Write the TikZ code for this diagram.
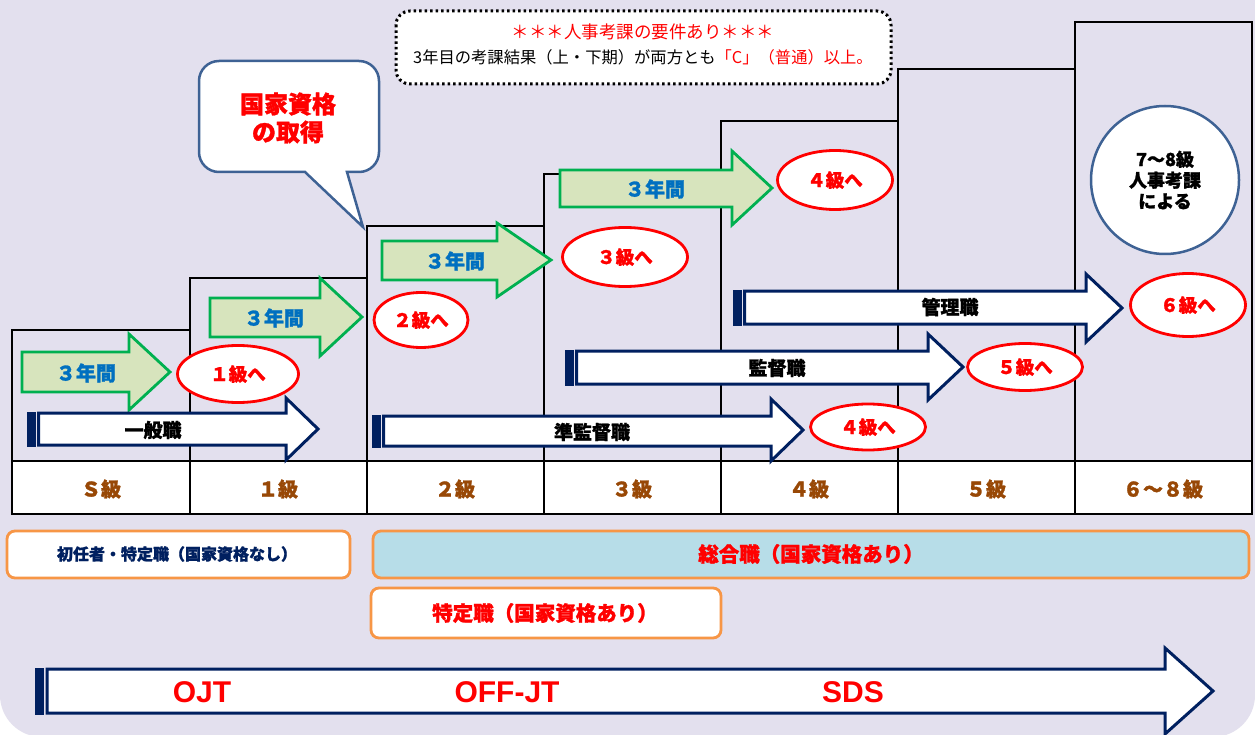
\documentclass[tikz,border=0pt]{standalone}
\usepackage{fontspec}
\setmainfont{Noto Sans CJK JP}[BoldFeatures={FakeBold=1.3}]
\newfontfamily\lat{Liberation Sans}
\usetikzlibrary{shapes.geometric}
\definecolor{bg}{HTML}{E3E0EE}
\definecolor{navy}{HTML}{002060}
\definecolor{gborder}{HTML}{00B050}
\definecolor{gfill}{HTML}{D7E4BD}
\definecolor{tblue}{HTML}{0070C0}
\definecolor{steel}{HTML}{3E6294}
\definecolor{orng}{HTML}{F79646}
\definecolor{lblue}{HTML}{B7DDE8}
\definecolor{brown}{HTML}{984806}
\definecolor{rd}{HTML}{FF0000}
\tikzset{
  stepline/.style={line width=2pt, black},
  garrow/.style={draw=gborder, fill=gfill, line width=2.8pt, line join=miter},
  narrow/.style={draw=navy, fill=white, line width=3pt, line join=miter},
  gtext/.style={text=tblue, font=\fontsize{20}{23}\selectfont\bfseries},
  ntext/.style={text=black, font=\fontsize{19}{22}\selectfont\bfseries},
  goal/.style={ellipse, draw=rd, fill=white, line width=2.8pt, text=rd, font=\fontsize{18.5}{21}\selectfont\bfseries},
  gradetxt/.style={text=brown, font=\fontsize{20}{23}\selectfont\bfseries},
  obox/.style={draw=orng, line width=2.8pt, rounded corners=8pt},
  bigtxt/.style={text=rd, font=\lat\fontsize{30}{34}\selectfont\bfseries},
}
\begin{document}
\begin{tikzpicture}[x=1pt,y=-1pt]
\useasboundingbox (0,0) rectangle (1255,735);
\fill[white] (0,0) rectangle (1255,735);
% background
\fill[bg, rounded corners=42pt] (0,-60) -- (0,737) -- (1255,737) -- (1255,-60) -- cycle;
\fill[bg] (0,0) rectangle (1255,600);
% steps
\draw[stepline] (12,461) -- (12,330) -- (190,330);
\draw[stepline] (190,514) -- (190,278) -- (367,278);
\draw[stepline] (367,514) -- (367,226) -- (544,226);
\draw[stepline] (544,514) -- (544,174) -- (721,174);
\draw[stepline] (721,514) -- (721,121) -- (898,121);
\draw[stepline] (898,514) -- (898,69) -- (1075,69);
\draw[stepline] (1075,514) -- (1075,22) -- (1252,22) -- (1252,514);
% grade row
\draw[stepline, fill=white] (12,461) rectangle (1252,514);
\foreach \x in {190,367,544,721,898,1075} \draw[stepline] (\x,461) -- (\x,514);
\node[gradetxt] (gS) at (101,489) {Ｓ級};
\node[gradetxt] (g1) at (278,489) {１級};
\node[gradetxt] (g2) at (455,489) {２級};
\node[gradetxt] (g3) at (632,489) {３級};
\node[gradetxt] (g4) at (809,489) {４級};
\node[gradetxt] (g5) at (986,489) {５級};
\node[gradetxt] (g6) at (1163,489) {６～８級};
% top note
\draw[line width=3pt, dash pattern=on 2.5pt off 3pt, rounded corners=14pt, fill=white] (396,11) rectangle (891,84);
\node[text=rd, font=\fontsize{17.5}{20}\selectfont] (note1) at (643,32) {＊＊＊人事考課の要件あり＊＊＊};
\node[font=\fontsize{16.3}{19}\selectfont] (note2) at (643,57) {3年目の考課結果（上・下期）が両方とも\textcolor{rd}{「C」（普通）以上。}};
% speech bubble
\draw[draw=steel, fill=white, line width=2.5pt, line join=miter] (305,172) [rounded corners=20pt] -- (199,172) -- (199,61) -- (379,61) -- (379,172) [sharp corners] -- (347,172) -- (363,227) -- cycle;
\node[text=rd, align=center, font=\fontsize{24}{28}\selectfont\bfseries] (bubble) at (288,118) {国家資格\\の取得};
% circle
\node[circle, draw=steel, fill=white, line width=2.5pt, minimum size=148pt, align=center, font=\fontsize{18}{21}\selectfont\bfseries] (c78) at (1165,180) {7～8級\\人事考課\\による};
% green arrows
\draw[garrow] (22,352) -- (129,352) -- (129,334) -- (170,372) -- (129,410) -- (129,392) -- (22,392) -- cycle;
\node[gtext] (y1) at (86,373) {３年間};
\draw[garrow] (210,298) -- (320,298) -- (320,278) -- (362,317) -- (320,356) -- (320,337) -- (210,337) -- cycle;
\node[gtext] (y2) at (274,318) {３年間};
\draw[garrow] (382,241) -- (497,241) -- (497,223) -- (551,260) -- (497,297) -- (497,280) -- (382,280) -- cycle;
\node[gtext] (y3) at (455,261) {３年間};
\draw[garrow] (560,170) -- (732,170) -- (732,151) -- (772,188) -- (732,225) -- (732,207) -- (560,207) -- cycle;
\node[gtext] (y4) at (655,189) {３年間};
% navy arrows
\draw[narrow] (38.5,413) -- (286,413) -- (286,398) -- (318,429) -- (286,460) -- (286,445) -- (38.5,445) -- cycle;
\fill[navy] (27,411.5) rectangle (35.5,446.5);
\node[ntext] (n1) at (153,430) {一般職};
\draw[narrow] (383.5,416) -- (771,416) -- (771,399) -- (803,430) -- (771,461) -- (771,446) -- (383.5,446) -- cycle;
\fill[navy] (372,414.5) rectangle (380.5,447.5);
\node[ntext] (n2) at (592,432) {準監督職};
\draw[narrow] (576.5,351) -- (928,351) -- (928,334) -- (963,367) -- (928,400) -- (928,384) -- (576.5,384) -- cycle;
\fill[navy] (565,349.5) rectangle (573.5,385.5);
\node[ntext] (n3) at (777,368) {監督職};
\draw[narrow] (744.5,291) -- (1086,291) -- (1086,274) -- (1122,308) -- (1086,342) -- (1086,324) -- (744.5,324) -- cycle;
\fill[navy] (733,289.5) rectangle (741.5,325.5);
\node[ntext] (n4) at (950,307) {管理職};
% goals
\node[goal, minimum width=121pt, minimum height=57pt] (e1) at (238,374) {１級へ};
\node[goal, minimum width=94pt, minimum height=55pt, inner sep=0pt] (e2) at (421,320) {２級へ};
\node[goal, minimum width=125pt, minimum height=59pt] (e3) at (625,257) {３級へ};
\node[goal, minimum width=115pt, minimum height=59pt] (e4a) at (835,180) {４級へ};
\node[goal, minimum width=115pt, minimum height=46pt, inner sep=0pt] (e4b) at (868,427) {４級へ};
\node[goal, minimum width=115pt, minimum height=47pt, inner sep=0pt] (e5) at (1025,367) {５級へ};
\node[goal, minimum width=115pt, minimum height=63pt] (e6) at (1188,305) {６級へ};
% bottom boxes
\draw[obox, fill=white] (7,531) rectangle (350,578);
\node[text=navy, font=\fontsize{16}{19}\selectfont\bfseries] (b1) at (177,554) {初任者・特定職（国家資格なし）};
\draw[obox, fill=lblue] (373,531) rectangle (1249,578);
\node[text=rd, font=\fontsize{20.5}{23}\selectfont\bfseries] (b2) at (811,554) {総合職（国家資格あり）};
\draw[obox, fill=white] (371,588) rectangle (721,638);
\node[text=rd, font=\fontsize{20.5}{23}\selectfont\bfseries] (b3) at (545,613) {特定職（国家資格あり）};
% OJT arrow
\draw[narrow] (47,669) -- (1165,669) -- (1165,648) -- (1213,691) -- (1165,734) -- (1165,713) -- (47,713) -- cycle;
\fill[navy] (35,667.5) rectangle (43.5,714.5);
\node[bigtxt] (ojt) at (202,692) {OJT};
\node[bigtxt] (off) at (507,692) {OFF-JT};
\node[bigtxt] (sds) at (853,692) {SDS};
\end{tikzpicture}
\end{document}
